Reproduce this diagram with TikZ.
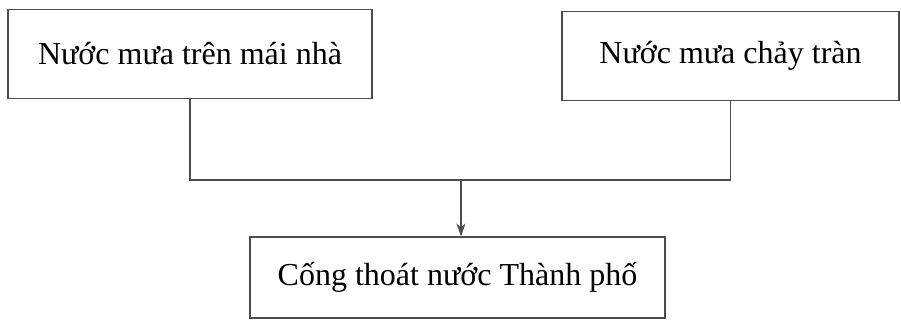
\documentclass[tikz,border=0pt]{standalone}
\usepackage{fontspec}
\setmainfont{Liberation Serif}
\usepackage{tikz}
\usetikzlibrary{arrows,arrows.meta,positioning}
\tikzstyle{arrow} = [line width=1.4pt, draw=gray!60!black, -{Stealth[length=13pt,width=9pt]}]
\tikzstyle{link} = [line width=1.4pt, draw=gray!60!black]

\begin{document}
\begin{tikzpicture}[x=1pt,y=-1pt]
		\useasboundingbox (0,0) rectangle (901,324);
		\coordinate (roof) at (190,54);
		\coordinate (runoff) at (730.5,56);
		\coordinate (drain) at (457.5,277.5);
		\coordinate (joint) at (461,180);
		% Sources of rain water
		\begin{scope}[every node/.style={draw=gray!60!black, line width=1.2pt, rectangle, minimum height=89pt, inner sep=0pt, font=\fontsize{32}{38}\selectfont, text centered}]
		\node[name=roof, minimum width=364pt] at (roof) {Nước mưa trên mái nhà};
		\node[name=runoff, minimum width=337pt] at (runoff) {Nước mưa chảy tràn};
		\end{scope}
		% City drain
		\begin{scope}[every node/.style={draw=gray!60!black, line width=1.2pt, rectangle, minimum width=415pt, minimum height=81pt, inner sep=0pt, font=\fontsize{32}{38}\selectfont, text centered}]
		\node[name=drain] at (drain) {Cống thoát nước Thành phố};
		\end{scope}
		\draw [link] (roof.south) |- (joint) -| (runoff.south);
		\draw [arrow] (joint) -- (drain.north -| joint);
\end{tikzpicture}
\end{document}
